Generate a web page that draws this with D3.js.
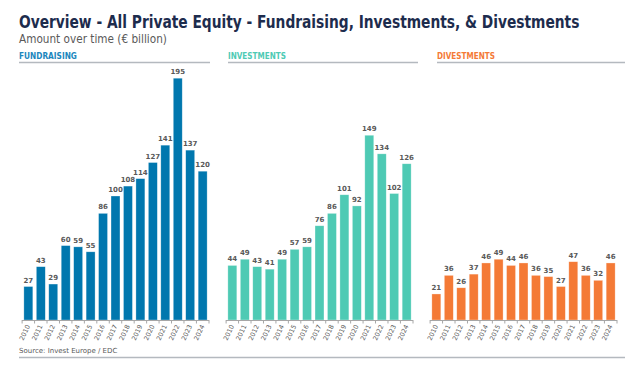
<!DOCTYPE html>
<html>
<head>
<meta charset="utf-8">
<script src="https://d3js.org/d3.v7.min.js"></script>
<style>
  body { margin: 0; background: #fff; }
  text { font-family: "DejaVu Sans", sans-serif; }
</style>
</head>
<body>
<svg width="633" height="373"></svg>
<script>
var years = ["2010","2011","2012","2013","2014","2015","2016","2017","2018","2019","2020","2021","2022","2023","2024"];
var fundraising = [27, 43, 29, 60, 59, 55, 86, 100, 108, 114, 127, 141, 195, 137, 120];
var investments = [44, 49, 43, 41, 49, 57, 59, 76, 86, 101, 92, 149, 134, 102, 126];
var divestments = [21, 36, 26, 37, 46, 49, 44, 46, 36, 35, 27, 47, 36, 32, 46];
var panelNames = ["FUNDRAISING", "INVESTMENTS", "DIVESTMENTS"];
var panelColors = ["#0077ae", "#4ecab4", "#f47a36"];
var headColors = ["#1b86bd", "#4ecab4", "#f47a36"];

var svg = d3.select("svg");

// squeeze a text horizontally to a target width
function fitWidth(sel, x, yPos, w) {
    var natural = sel.node().getComputedTextLength();
    var k = Math.min(1, w / natural);
    sel.attr("x", 0).attr("y", 0)
       .attr("transform", "translate(" + x + "," + yPos + ") scale(" + k + ",1)");
}

// titles
var title = svg.append("text")
    .attr("font-size", 18).attr("font-weight", "bold")
    .attr("fill", "#1d2c4d")
    .text("Overview - All Private Equity - Fundraising, Investments, & Divestments");
fitWidth(title, 19, 28, 561);

var sub = svg.append("text")
    .attr("font-size", 12)
    .attr("fill", "#595959")
    .text("Amount over time (€ billion)");
fitWidth(sub, 19, 43, 148);

var y = d3.scaleLinear().domain([0, 200]).range([320, 72]);

var panels = [fundraising, investments, divestments];
var lefts = [22, 226, 430];
var panelW = 187;
var lineSpans = [[19, 210], [228, 418], [437, 625]];

panels.forEach(function(vals, i) {
    var x = d3.scaleBand().domain(years)
        .range([lefts[i], lefts[i] + panelW])
        .paddingInner(0.28).paddingOuter(0.15);

    var g = svg.append("g");

    var head = g.append("text")
        .attr("font-size", 9).attr("font-weight", "bold")
        .attr("fill", headColors[i])
        .text(panelNames[i]);
    fitWidth(head, lineSpans[i][0], 59, 58);

    g.append("line")
        .attr("x1", lineSpans[i][0]).attr("x2", lineSpans[i][1])
        .attr("y1", 62.5).attr("y2", 62.5)
        .attr("stroke", "#b4b9bf").attr("stroke-width", 1.5);

    g.selectAll("rect").data(vals).enter().append("rect")
        .attr("x", function(d, j) { return x(years[j]); })
        .attr("y", function(d) { return y(d); })
        .attr("width", x.bandwidth())
        .attr("height", function(d) { return y(0) - y(d); })
        .attr("fill", panelColors[i])
        .attr("stroke", "#ffffff").attr("stroke-opacity", 0.5).attr("stroke-width", 0.6);

    g.selectAll(".val").data(vals).enter().append("text")
        .attr("class", "val")
        .attr("x", function(d, j) { return x(years[j]) + x.bandwidth() / 2; })
        .attr("y", function(d) { return y(d) - 4; })
        .attr("text-anchor", "middle")
        .attr("font-size", 7).attr("font-weight", "bold")
        .attr("fill", "#595959")
        .text(function(d) { return d; });

    // axis line with ticks at band edges
    var ax = g.append("g");
    ax.append("line")
        .attr("x1", lefts[i]).attr("x2", lefts[i] + panelW)
        .attr("y1", y(0) + 0.5).attr("y2", y(0) + 0.5)
        .attr("stroke", "#a6a6a6").attr("stroke-width", 1);
    var edges = years.map(function(yr) { return x(yr) - x.step() * x.paddingInner() / 2; });
    edges.push(lefts[i] + panelW);
    ax.selectAll(".tk").data(edges).enter().append("line")
        .attr("x1", function(d) { return d; }).attr("x2", function(d) { return d; })
        .attr("y1", y(0)).attr("y2", y(0) + 3.5)
        .attr("stroke", "#a6a6a6");

    ax.selectAll(".yr").data(years).enter().append("text")
        .attr("transform", function(d) {
            return "translate(" + (x(d) + x.bandwidth() / 2 + 2) + "," + (y(0) + 6) + ") rotate(-65)";
        })
        .attr("text-anchor", "end")
        .attr("font-size", 6.5)
        .attr("fill", "#595959")
        .text(function(d) { return d; });
});

svg.append("text")
    .attr("x", 19).attr("y", 353)
    .attr("font-size", 7)
    .attr("fill", "#595959")
    .text("Source: Invest Europe / EDC");

svg.append("line")
    .attr("x1", 19).attr("x2", 625)
    .attr("y1", 357.5).attr("y2", 357.5)
    .attr("stroke", "#b4b9bf").attr("stroke-width", 1.5);
</script>
</body>
</html>
